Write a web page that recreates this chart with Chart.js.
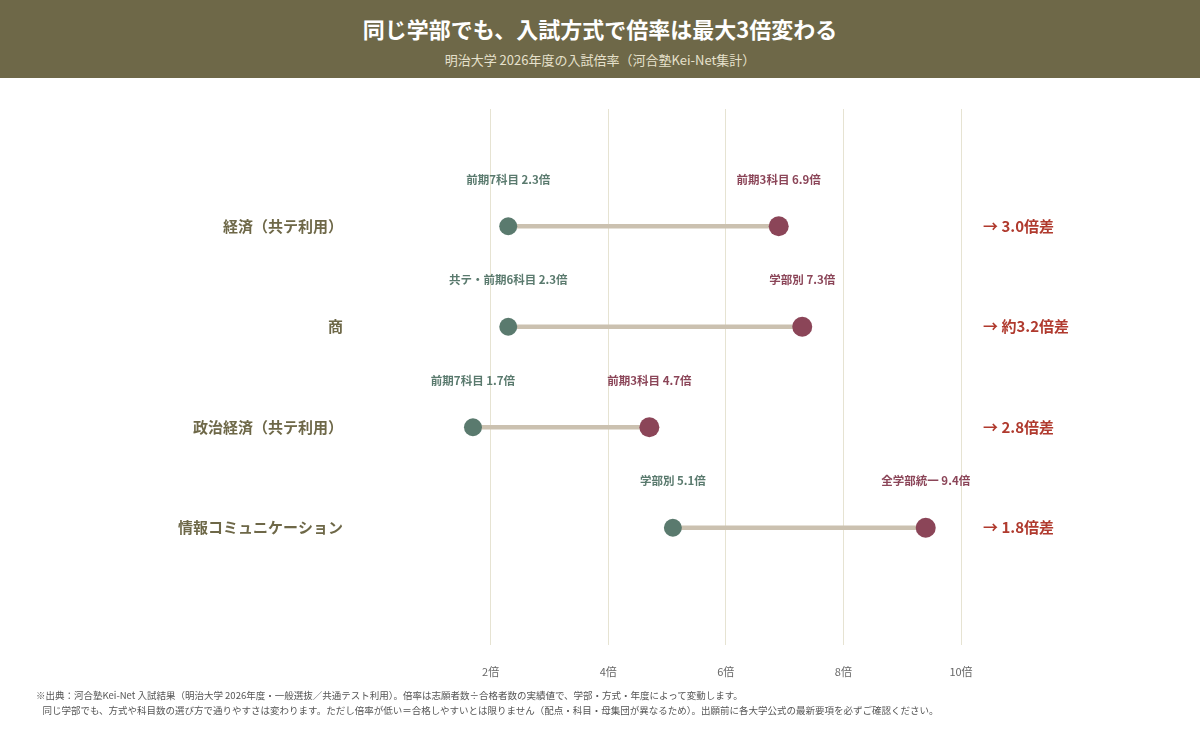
<!DOCTYPE html>
<html><head><meta charset="utf-8">
<script src="https://cdn.jsdelivr.net/npm/chart.js@4.4.1/dist/chart.umd.min.js"></script>
<style>
  body { margin:0; width:1200px; height:750px; background:#fff; font-family:"Noto Sans CJK JP",sans-serif; position:relative; overflow:hidden; }
  #head { height:78px; background:#6e6848; color:#fff; text-align:center; }
  #head h1 { margin:0; padding-top:12px; font-size:22px; font-weight:bold; }
  #head div { font-size:13px; color:#e6e1cc; margin-top:6px; }
  #wrap { position:absolute; top:78px; left:0; width:1200px; height:620px; }
  #note { position:absolute; left:36px; top:688px; font-size:9.5px; color:#555; line-height:15px; }
</style></head>
<body>
<div id="head"><h1>同じ学部でも、入試方式で倍率は最大3倍変わる</h1><div>明治大学 2026年度の入試倍率（河合塾Kei-Net集計）</div></div>
<div id="wrap"><canvas id="c" width="1200" height="620"></canvas></div>
<div id="note">※出典：河合塾Kei-Net 入試結果（明治大学 2026年度・一般選抜／共通テスト利用）。倍率は志願者数÷合格者数の実績値で、学部・方式・年度によって変動します。<br>
&nbsp;&nbsp;&nbsp;同じ学部でも、方式や科目数の選び方で通りやすさは変わります。ただし倍率が低い＝合格しやすいとは限りません（配点・科目・母集団が異なるため）。出願前に各大学公式の最新要項を必ずご確認ください。</div>
<script>
// data
const faculties = ["経済（共テ利用）", "商", "政治経済（共テ利用）", "情報コミュニケーション"];
const lowValues = [2.3, 2.3, 1.7, 5.1];
const highValues = [6.9, 7.3, 4.7, 9.4];
const lowLabels = ["前期7科目 2.3倍", "共テ・前期6科目 2.3倍", "前期7科目 1.7倍", "学部別 5.1倍"];
const highLabels = ["前期3科目 6.9倍", "学部別 7.3倍", "前期3科目 4.7倍", "全学部統一 9.4倍"];
const gapLabels = ["→ 3.0倍差", "→ 約3.2倍差", "→ 2.8倍差", "→ 1.8倍差"];

const LOW = "#5a7a6e", HIGH = "#8b4558";

// text above the dots and the gap on the right
const textPlugin = {
  id: "texts",
  afterDatasetsDraw(chart) {
    const ctx = chart.ctx, x = chart.scales.x, y = chart.scales.y;
    ctx.save();
    ctx.textAlign = "center";
    ctx.textBaseline = "middle";
    ctx.font = "bold 11.5px 'Noto Sans CJK JP'";
    faculties.forEach((f, i) => {
      const yy = y.getPixelForValue(i);
      ctx.fillStyle = LOW;
      ctx.fillText(lowLabels[i], x.getPixelForValue(lowValues[i]), yy - 47);
      ctx.fillStyle = HIGH;
      ctx.fillText(highLabels[i], x.getPixelForValue(highValues[i]), yy - 47);
    });
    ctx.textAlign = "left";
    ctx.font = "bold 15px 'Noto Sans CJK JP'";
    ctx.fillStyle = "#b03a2e";
    faculties.forEach((f, i) => {
      ctx.fillText(gapLabels[i], chart.chartArea.right + 22, y.getPixelForValue(i));
    });
    ctx.restore();
  }
};

new Chart(document.getElementById("c"), {
  data: {
    datasets: [
      {
        type: "scatter",
        data: lowValues.map((v, i) => ({ x: v, y: i })),
        backgroundColor: LOW, borderWidth: 0, pointRadius: 9, order: 1,
      },
      {
        type: "scatter",
        data: highValues.map((v, i) => ({ x: v, y: i })),
        backgroundColor: HIGH, borderWidth: 0, pointRadius: 10, order: 1,
      },
      {
        type: "bar",
        data: lowValues.map((v, i) => ({ y: i, x: [v, highValues[i]] })),
        backgroundColor: "#cbc1b0", barThickness: 4, order: 2,
      },
    ],
  },
  options: {
    indexAxis: "y",
    responsive: false,
    animation: false,
    layout: { padding: { top: 19, right: 239, left: 0, bottom: 0 } },
    plugins: { legend: { display: false }, tooltip: { enabled: false } },
    scales: {
      x: {
        type: "linear", min: 0, max: 10,
        ticks: {
          stepSize: 2, padding: 20, color: "#666",
          font: { size: 11, family: "Noto Sans CJK JP" },
          callback: (v) => (v === 0 ? "" : v + "倍"),
        },
        grid: { color: (c) => (c.tick && c.tick.value === 0 ? "rgba(0,0,0,0)" : "#e6e3d2"), drawTicks: false },
        border: { display: false },
        afterFit: (s) => { s.height = 53; },
      },
      y: {
        type: "linear", min: -0.5, max: 3.5, reverse: true,
        afterBuildTicks: (s) => { s.ticks = faculties.map((f, i) => ({ value: i })); },
        ticks: {
          padding: 22, color: "#6e6848",
          font: { size: 15, weight: "bold", family: "Noto Sans CJK JP" },
          callback: (v) => faculties[v],
        },
        grid: { display: false },
        border: { display: false },
        afterFit: (s) => { s.width = 373; },
      },
    },
  },
  plugins: [textPlugin],
});
</script>
</body></html>
